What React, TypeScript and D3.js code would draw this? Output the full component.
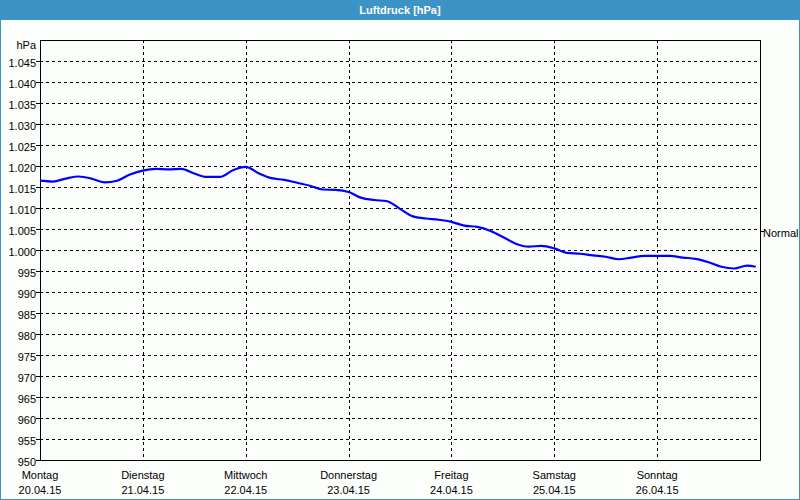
import React, { useEffect, useRef } from 'react';
import * as d3 from 'd3';

// hours since Mon 20.04.15 00:00
const hours = [
  0, 3, 6, 9, 12, 15, 18, 21, 24, 27, 30, 33, 36, 39, 42, 45, 48, 51, 54, 57,
  60, 63, 66, 69, 72, 75, 78, 81, 84, 87, 90, 93, 96, 99, 102, 105, 108, 111,
  114, 117, 120, 123, 126, 129, 132, 135, 138, 141, 144, 147, 150, 153, 156,
  159, 162, 165, 167,
];
const pressure = [
  1016.5, 1016.3, 1017.0, 1017.5, 1017.0, 1016.1, 1016.5, 1018.0, 1018.9, 1019.3,
  1019.2, 1019.3, 1018.2, 1017.4, 1017.4, 1019.0, 1019.8, 1018.3, 1017.1, 1016.7,
  1016.0, 1015.3, 1014.4, 1014.3, 1013.8, 1012.4, 1011.9, 1011.6, 1009.8, 1008.0,
  1007.5, 1007.2, 1006.7, 1005.8, 1005.5, 1004.6, 1003.1, 1001.5, 1000.8, 1001.0,
  1000.4, 999.3, 999.1, 998.7, 998.4, 997.8, 998.2, 998.6, 998.6, 998.6,
  998.2, 997.9, 997.1, 996.0, 995.6, 996.3, 996.0,
];
const dayNames = ['Montag', 'Dienstag', 'Mittwoch', 'Donnerstag', 'Freitag', 'Samstag', 'Sonntag'];
const yTicks = d3.range(950, 1050, 5);
const normalValue = 1004.5;
const title = 'Luftdruck [hPa]';

const W = 800;
const H = 500;
const FONT = '"Liberation Sans", Arial, sans-serif';

const App: React.FC = () => {
  const svgRef = useRef<SVGSVGElement>(null);

  useEffect(() => {
    document.body.style.margin = '0';
    if (!svgRef.current) return;
    const svg = d3.select(svgRef.current);
    svg.selectAll('*').remove();

    const margin = { top: 40, right: 40, bottom: 40, left: 40 };
    const start = new Date(2015, 3, 20);
    const end = new Date(2015, 3, 27);

    const x = d3.scaleTime().domain([start, end]).range([margin.left, W - margin.right]);
    const y = d3.scaleLinear().domain([950, 1050]).range([H - margin.bottom, margin.top]);

    const de = d3.formatLocale({ decimal: ',', thousands: '.', grouping: [3], currency: ['', '€'] });
    const fmt = de.format(',d');

    // window frame
    svg.append('rect').attr('x', 0).attr('y', 0).attr('width', W).attr('height', H).attr('fill', '#3d93c5');
    svg.append('rect').attr('x', 1).attr('y', 20).attr('width', W - 2).attr('height', H - 21).attr('fill', '#fcfefc');

    svg.append('text')
      .attr('x', W / 2).attr('y', 14)
      .attr('text-anchor', 'middle')
      .style('font-family', FONT).style('font-size', '11px').style('font-weight', 'bold')
      .attr('fill', '#fff')
      .text(title);

    // horizontal grid
    svg.append('g').selectAll('line')
      .data(yTicks.slice(1))
      .enter().append('line')
      .attr('x1', margin.left).attr('x2', W - margin.right)
      .attr('y1', d => Math.round(y(d)) + 0.5).attr('y2', d => Math.round(y(d)) + 0.5)
      .attr('stroke', '#000').attr('stroke-dasharray', '3,3');

    // vertical grid
    const days = d3.timeDay.range(start, end);
    svg.append('g').selectAll('line')
      .data(days.slice(1))
      .enter().append('line')
      .attr('x1', d => Math.round(x(d)) + 0.5).attr('x2', d => Math.round(x(d)) + 0.5)
      .attr('y1', margin.top).attr('y2', H - margin.bottom)
      .attr('stroke', '#000').attr('stroke-dasharray', '3,3');

    // y ticks and labels
    const yAxis = svg.append('g');
    yAxis.selectAll('line')
      .data(yTicks)
      .enter().append('line')
      .attr('x1', margin.left - 4).attr('x2', margin.left)
      .attr('y1', d => Math.round(y(d)) + 0.5).attr('y2', d => Math.round(y(d)) + 0.5)
      .attr('stroke', '#000');
    yAxis.selectAll('text')
      .data(yTicks)
      .enter().append('text')
      .attr('x', margin.left - 4)
      .attr('y', d => y(d) + 6)
      .attr('text-anchor', 'end')
      .style('font-family', FONT).style('font-size', '11px')
      .attr('fill', '#000')
      .text(d => fmt(d));
    svg.append('text')
      .attr('x', margin.left - 4).attr('y', margin.top + 9)
      .attr('text-anchor', 'end')
      .style('font-family', FONT).style('font-size', '11px')
      .text('hPa');

    // x labels
    const xLab = svg.append('g').selectAll('g')
      .data(days)
      .enter().append('g')
      .attr('transform', d => `translate(${x(d)},0)`);
    xLab.append('text')
      .attr('y', 479).attr('text-anchor', 'middle')
      .style('font-family', FONT).style('font-size', '11px')
      .text((_d, i) => dayNames[i]);
    xLab.append('text')
      .attr('y', 494).attr('text-anchor', 'middle')
      .style('font-family', FONT).style('font-size', '11px')
      .text(d => d3.timeFormat('%d.%m.%y')(d));

    // normal marker
    svg.append('line')
      .attr('x1', W - margin.right).attr('x2', W - margin.right + 4)
      .attr('y1', Math.round(y(normalValue)) + 0.5).attr('y2', Math.round(y(normalValue)) + 0.5)
      .attr('stroke', '#000');
    svg.append('text')
      .attr('x', W - margin.right + 3).attr('y', y(normalValue) + 6)
      .style('font-family', FONT).style('font-size', '11px')
      .attr('fill', '#000')
      .text('Normal');

    // plot border
    svg.append('rect')
      .attr('x', margin.left + 0.5).attr('y', margin.top + 0.5)
      .attr('width', W - margin.left - margin.right).attr('height', H - margin.top - margin.bottom)
      .attr('fill', 'none').attr('stroke', '#000');

    // pressure line
    const data = hours.map((h, i) => ({ t: d3.timeHour.offset(start, h), v: pressure[i] }));
    const line = d3.line<{ t: Date; v: number }>()
      .x(d => x(d.t))
      .y(d => y(d.v))
      .curve(d3.curveMonotoneX);
    svg.append('path')
      .datum(data)
      .attr('d', line)
      .attr('fill', 'none')
      .attr('stroke', '#0000ff')
      .attr('stroke-width', 2.2);
  }, []);

  return (
    <svg
      ref={svgRef}
      width={W}
      height={H}
      style={{ position: 'absolute', left: 0, top: 0, display: 'block' }}
    />
  );
};

export default App;
